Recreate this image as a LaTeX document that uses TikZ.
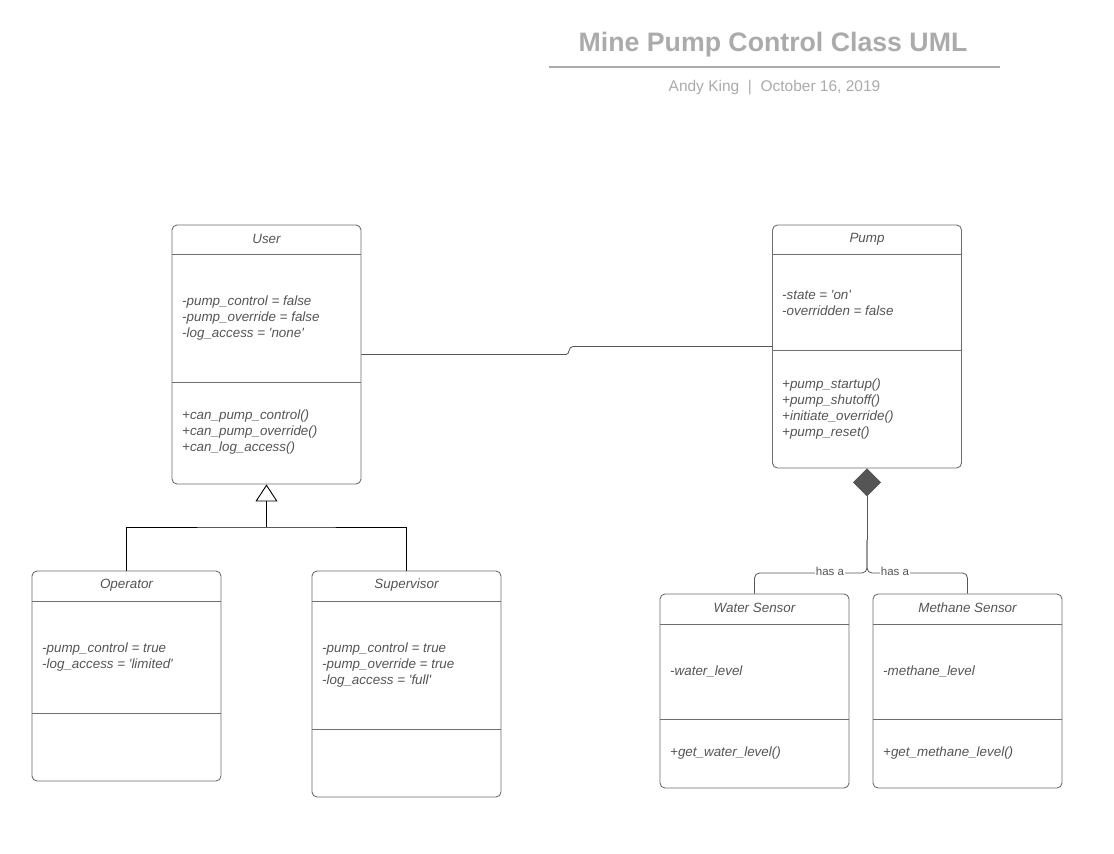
\documentclass[tikz,border=0pt]{standalone}
\usepackage{fontspec}
\setmainfont{Liberation Sans}[Ligatures=TeXOff]
\usetikzlibrary{arrows.meta}
\definecolor{boxline}{HTML}{6E6E6E}
\definecolor{txt}{HTML}{555555}
\definecolor{ttl}{HTML}{ABABAB}
\definecolor{conn}{HTML}{555555}
\begin{document}
\begin{tikzpicture}[x=1pt,y=-1pt,
  classbox/.style={draw=boxline, line width=0.9pt, rounded corners=5pt, rectangle, minimum width=189pt, inner sep=0pt, fill=white},
  sep/.style={draw=boxline, line width=0.9pt},
  ctitle/.style={font=\fontsize{13.4}{16}\selectfont\itshape, text=txt, inner sep=0pt},
  members/.style={font=\fontsize{13.4}{16}\selectfont\itshape, text=txt, inner sep=0pt, align=left, anchor=west},
  assoc/.style={draw=conn, line width=0.8pt},
  gen/.style={draw=black, line width=0.9pt},
  lbl/.style={font=\fontsize{11.5}{13}\selectfont, text=txt, fill=white, inner sep=1pt}
]
\useasboundingbox (0,0) rectangle (1114,854);
\fill[white] (0,0) rectangle (1114,854);

% title
\node[font=\fontsize{26.7}{31}\selectfont\bfseries, text=ttl] (title) at (773,45) {Mine Pump Control Class UML};
\draw[ttl, line width=1.6pt] (549,67) -- (1000,67);
\node[font=\fontsize{15.5}{18}\selectfont, text=ttl] (sub) at (774.5,87.5) {Andy King~~|~~October 16, 2019};

% User
\node[classbox, minimum height=259pt] (user) at (266.5,354.5) {};
\draw[sep] (172,254) -- (361,254);
\draw[sep] (172,382) -- (361,382);
\node[ctitle] (userT) at (266.5,239) {User};
\node[members] (userA) at (182,318) {-pump\_control = false\\-pump\_override = false\\-log\_access = 'none'};
\node[members] (userM) at (182,432) {+can\_pump\_control()\\+can\_pump\_override()\\+can\_log\_access()};

% Pump
\node[classbox, minimum height=243pt] (pump) at (867,346.5) {};
\draw[sep] (772,254) -- (962,254);
\draw[sep] (772,350) -- (962,350);
\node[ctitle] (pumpT) at (867,239) {Pump};
\node[members] (pumpA) at (782,303) {-state = 'on'\\-overridden = false};
\node[members] (pumpM) at (782,409) {+pump\_startup()\\+pump\_shutoff()\\+initiate\_override()\\+pump\_reset()};

% Operator
\node[classbox, minimum height=210pt] (oper) at (126.5,676) {};
\draw[sep] (32,601) -- (221,601);
\draw[sep] (32,713) -- (221,713);
\node[ctitle] (operT) at (126.5,585) {Operator};
\node[members] (operA) at (42,657) {-pump\_control = true\\-log\_access = 'limited'};

% Supervisor
\node[classbox, minimum height=226pt] (sup) at (406.5,684) {};
\draw[sep] (312,601) -- (501,601);
\draw[sep] (312,729) -- (501,729);
\node[ctitle] (supT) at (406.5,585) {Supervisor};
\node[members] (supA) at (322,665) {-pump\_control = true\\-pump\_override = true\\-log\_access = 'full'};

% Water Sensor
\node[classbox, minimum height=194pt] (water) at (754.5,691) {};
\draw[sep] (660,624) -- (849,624);
\draw[sep] (660,719) -- (849,719);
\node[ctitle] (waterT) at (754.5,608) {Water Sensor};
\node[members] (waterA) at (670,671) {-water\_level};
\node[members] (waterM) at (670,753) {+get\_water\_level()};

% Methane Sensor
\node[classbox, minimum height=194pt] (meth) at (967.5,691) {};
\draw[sep] (873,624) -- (1062,624);
\draw[sep] (873,719) -- (1062,719);
\node[ctitle] (methT) at (967.5,608) {Methane Sensor};
\node[members] (methA) at (883,671) {-methane\_level};
\node[members] (methM) at (883,753) {+get\_methane\_level()};

% association User -- Pump
\draw[assoc] (user.east) -- (566,354.5) .. controls (570,354.5) and (568,346.5) .. (573,346.5) -- (pump.west);

% generalization
\coordinate (genj) at (266.5,527);
\draw[gen] (oper.north) |- (genj) -| (sup.north);
\draw[gen, -{Triangle[open, length=17pt, width=22pt, line width=0.9pt]}] (genj) -- (user.south);

% composition
\coordinate (hub) at (867,540);
\coordinate (jw) at (867,573);
\draw[assoc, rounded corners=5pt] (water.north) |- (jw) -- (hub);
\draw[assoc, rounded corners=5pt] (meth.north) |- (jw) -- (hub);
\draw[assoc, -{Diamond[length=28pt, width=28pt, fill=conn, line width=0.8pt]}] (hub) -- (pump.south);
\node[lbl] (has1) at (830,571.5) {has a};
\node[lbl] (has2) at (895,571.5) {has a};
\end{tikzpicture}
\end{document}
